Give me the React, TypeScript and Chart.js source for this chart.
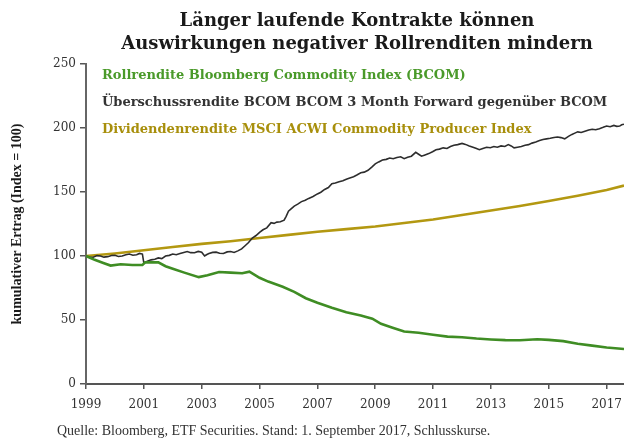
import { useEffect, useRef } from "react";
import { Chart, registerables } from "chart.js";
Chart.register(...registerables);

const titleLines = [
  "Länger laufende Kontrakte können",
  "Auswirkungen negativer Rollrenditen mindern",
];
const footerText =
  "Quelle: Bloomberg, ETF Securities. Stand: 1. September 2017, Schlusskurse.";
const yAxisTitle = "kumulativer Ertrag (Index = 100)";
const xTicks = [1999, 2001, 2003, 2005, 2007, 2009, 2011, 2013, 2015, 2017];

const labelGreen = "Rollrendite Bloomberg Commodity Index (BCOM)";
const labelBlack = "Überschussrendite BCOM BCOM 3 Month Forward gegenüber BCOM";
const labelGold = "Dividendenrendite MSCI ACWI Commodity Producer Index";

const yearsGreen = [
  1999.0, 1999.3, 1999.6, 1999.85, 2000.2, 2000.6, 2000.95, 2001.05, 2001.5,
  2001.75, 2002.0, 2002.4, 2002.9, 2003.2, 2003.6, 2004.0, 2004.4, 2004.65,
  2005.0, 2005.3, 2005.8, 2006.2, 2006.6, 2007.0, 2007.5, 2008.0, 2008.5,
  2008.9, 2009.2, 2009.6, 2010.0, 2010.5, 2011.0, 2011.5, 2012.0, 2012.5,
  2013.0, 2013.5, 2014.0, 2014.6, 2015.0, 2015.5, 2016.0, 2016.5, 2017.0,
  2017.6,
];
const valuesGreen = [
  100, 97, 94.5, 92.5, 93.5, 93, 93, 95, 95, 92, 90, 87, 83.5, 85, 87.5, 87,
  86.5, 87.8, 83, 80, 76, 72, 67, 63.5, 59.5, 56, 53.5, 51, 47, 44, 41, 40,
  38.5, 37, 36.5, 35.5, 34.8, 34.3, 34.2, 35, 34.5, 33.5, 31.5, 30, 28.5, 27.3,
];

const yearsBlack = [
  1999.0, 1999.12, 1999.25, 1999.38, 1999.5, 1999.62, 1999.75, 1999.88, 2000.0,
  2000.12, 2000.25, 2000.38, 2000.5, 2000.62, 2000.75, 2000.85, 2000.95,
  2001.0, 2001.12, 2001.25, 2001.38, 2001.5, 2001.62, 2001.75, 2001.88, 2002.0,
  2002.12, 2002.25, 2002.38, 2002.5, 2002.62, 2002.75, 2002.88, 2003.0, 2003.1,
  2003.18, 2003.25, 2003.38, 2003.5, 2003.62, 2003.75, 2003.88, 2004.0,
  2004.12, 2004.25, 2004.38, 2004.5, 2004.62, 2004.75, 2004.88, 2005.0,
  2005.12, 2005.25, 2005.4, 2005.5, 2005.6, 2005.72, 2005.85, 2005.92, 2006.0,
  2006.1, 2006.2, 2006.32, 2006.45, 2006.58, 2006.7, 2006.85, 2007.0, 2007.12,
  2007.25, 2007.38, 2007.5, 2007.62, 2007.75, 2007.88, 2008.0, 2008.12,
  2008.25, 2008.38, 2008.5, 2008.62, 2008.75, 2008.88, 2009.0, 2009.12,
  2009.25, 2009.38, 2009.5, 2009.62, 2009.75, 2009.88, 2010.0, 2010.12,
  2010.25, 2010.4, 2010.5, 2010.6, 2010.72, 2010.85, 2010.98, 2011.1, 2011.22,
  2011.35, 2011.48, 2011.6, 2011.72, 2011.85, 2012.0, 2012.12, 2012.25,
  2012.38, 2012.5, 2012.6, 2012.72, 2012.85, 2012.98, 2013.1, 2013.22,
  2013.35, 2013.48, 2013.6, 2013.7, 2013.8, 2013.92, 2014.05, 2014.18, 2014.3,
  2014.42, 2014.55, 2014.68, 2014.8, 2014.92, 2015.05, 2015.18, 2015.3,
  2015.42, 2015.55, 2015.68, 2015.8, 2015.9, 2016.0, 2016.12, 2016.25,
  2016.38, 2016.5, 2016.62, 2016.75, 2016.88, 2017.0, 2017.12, 2017.25,
  2017.35, 2017.45, 2017.52, 2017.6,
];
const valuesBlack = [
  100, 99.2, 99, 100.3, 100, 99.1, 99.5, 100.4, 100.5, 99.6, 100, 101, 101.5,
  100.6, 101, 102, 101.5, 94.5, 96, 97, 97.5, 98.5, 98, 100, 100.5, 101.5,
  101, 102, 102.8, 103.5, 102.6, 102.5, 103.6, 103, 100, 101.2, 102, 102.8,
  103, 102.2, 102, 103.2, 103.5, 102.8, 104, 105.5, 108, 110.5, 114, 116,
  118.5, 120.5, 122, 126, 125.5, 126.5, 126.8, 128, 131, 135, 137, 139, 140.5,
  142.5, 143.5, 145, 146.5, 148.5, 149.8, 152, 153.5, 156.5, 157, 158, 158.8,
  160, 161, 162, 163.5, 165, 165.5, 167, 169.5, 172, 173.5, 175, 175.5, 176.5,
  176, 177, 177.5, 176, 177.2, 178, 181, 179.5, 178, 179, 180, 181.5, 183,
  183.5, 184.5, 184, 185.5, 186.5, 187, 188, 187.2, 186, 185, 184, 183, 184,
  185, 184.6, 185.5, 185, 186, 185.6, 187, 186, 184.5, 185, 185.5, 186.5, 187,
  188.2, 189, 190.2, 191, 191.5, 192, 192.6, 193, 192.5, 191.5, 193.5, 195,
  196, 197, 196.5, 197.5, 198.5, 199, 198.6, 199.5, 200.5, 201.5, 201, 202,
  201.3, 201.5, 202.5, 203,
];

const yearsGold = [
  1999, 2000, 2001, 2002, 2003, 2004, 2005, 2006, 2007, 2008, 2009, 2010, 2011,
  2012, 2013, 2014, 2015, 2016, 2017, 2017.6,
];
const valuesGold = [
  100, 102, 104.5, 107, 109.5, 111.5, 114, 116.5, 119, 121, 123, 125.8, 128.5,
  132, 135.5, 139, 143, 147, 151.5, 155,
];

const toPoints = (xs: number[], ys: number[]) =>
  xs.map((x, i) => ({ x, y: ys[i] }));

const legendColors = ["#4a9a2a", "#333333", "#a88f0c"];

const overlayPlugin = {
  id: "overlay",
  afterDraw(chart: any) {
    const ctx = chart.ctx as CanvasRenderingContext2D;
    const area = chart.chartArea;
    ctx.save();
    ctx.textAlign = "center";
    ctx.textBaseline = "middle";
    ctx.fillStyle = "#1a1a1a";
    ctx.font = 'bold 18px "DejaVu Serif"';
    titleLines.forEach((t, i) => ctx.fillText(t, 357, 21 + i * 23));

    ctx.textAlign = "left";
    ctx.font = 'bold 13px "DejaVu Serif"';
    chart.data.datasets.forEach((ds: any, i: number) => {
      ctx.fillStyle = legendColors[i];
      ctx.fillText(ds.label, area.left + 16, area.top + 12 + i * 26.7);
    });

    ctx.fillStyle = "#333333";
    ctx.font = '14px "Liberation Serif"';
    ctx.fillText(footerText, 57, 431);
    ctx.restore();
  },
};

export default function App() {
  const ref = useRef<HTMLCanvasElement | null>(null);
  useEffect(() => {
    document.body.style.margin = "0";
    if (!ref.current) return;
    const chart = new Chart(ref.current, {
      type: "line",
      data: {
        datasets: [
          {
            label: labelGreen,
            data: toPoints(yearsGreen, valuesGreen),
            borderColor: "#3f8d24",
            borderWidth: 2.6,
            pointRadius: 0,
          },
          {
            label: labelBlack,
            data: toPoints(yearsBlack, valuesBlack),
            borderColor: "#2d2d2d",
            borderWidth: 1.6,
            pointRadius: 0,
          },
          {
            label: labelGold,
            data: toPoints(yearsGold, valuesGold),
            borderColor: "#b39811",
            borderWidth: 2.6,
            pointRadius: 0,
          },
        ],
      },
      options: {
        responsive: false,
        animation: false,
        layout: { padding: { top: 64, right: 0, bottom: 0, left: 0 } },
        plugins: {
          legend: { display: false },
          title: { display: false },
          tooltip: { enabled: false },
        },
        scales: {
          x: {
            type: "linear",
            min: 1999,
            max: 2017.6,
            afterBuildTicks: (s: any) => {
              s.ticks = xTicks.map((v) => ({ value: v }));
            },
            afterFit: (s: any) => {
              s.height = 57;
              s.paddingRight = 0;
              s.paddingLeft = 0;
            },
            ticks: {
              callback: (v: any) => String(v),
              font: { family: "DejaVu Serif", size: 12 },
              color: "#333333",
              padding: 9,
              maxRotation: 0,
              autoSkip: false,
            },
            grid: {
              drawOnChartArea: false,
              drawTicks: true,
              tickLength: 5,
              color: "#555555",
              lineWidth: 1.5,
            },
            border: { display: true, color: "#555555", width: 2 },
          },
          y: {
            min: 0,
            max: 250,
            afterFit: (s: any) => {
              s.width = 86;
            },
            ticks: {
              stepSize: 50,
              font: { family: "DejaVu Serif", size: 12 },
              color: "#333333",
              padding: 4,
            },
            grid: {
              drawOnChartArea: false,
              drawTicks: true,
              tickLength: 6,
              color: "#555555",
              lineWidth: 1.5,
            },
            border: { display: true, color: "#666666", width: 2 },
            title: {
              display: true,
              text: yAxisTitle,
              font: { family: "Liberation Serif", size: 14, weight: "bold" },
              color: "#1a1a1a",
              padding: { top: 9, bottom: 0 },
            },
          },
        },
      },
      plugins: [overlayPlugin],
    });
    return () => chart.destroy();
  }, []);
  return (
    <div style={{ width: 624, height: 441, background: "#ffffff" }}>
      <canvas ref={ref} width={624} height={441} />
    </div>
  );
}
